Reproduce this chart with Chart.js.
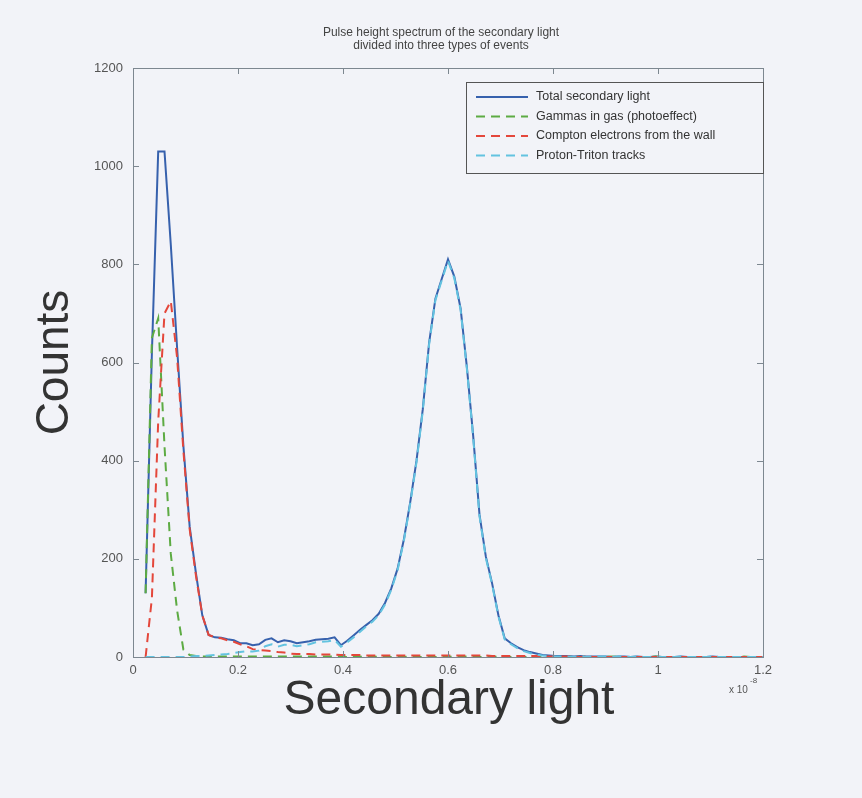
<!DOCTYPE html>
<html>
<head>
<meta charset="utf-8">
<script src="https://cdn.jsdelivr.net/npm/chart.js@4.4.1/dist/chart.umd.min.js"></script>
<style>
  html, body { margin: 0; padding: 0; background: #f2f3f8; }
  canvas { display: block; }
</style>
</head>
<body>
<canvas id="spectrum" width="862" height="798"></canvas>
<script>
// histogram bins, secondary light in units of 1e-8, first bin centre at 2 * binWidth
var binWidth = 0.012;
var firstBin = 2;

var totalLight = [
    130, 620, 1030, 1030, 840, 630, 430, 265, 170, 85, 45, 40, 39, 36, 34,
    28, 28, 24, 26, 35, 38, 30, 34, 32, 28, 30, 32, 35, 36, 37,
    40, 24, 33, 44, 55, 65, 75, 88, 110, 140, 180, 240, 315, 400, 505,
    640, 730, 770, 810, 775, 710, 590, 450, 290, 205, 150, 85, 38, 28, 20,
    14, 10, 7, 4, 3, 2, 2, 2, 1, 2, 1, 1, 1, 1, 0,
    1, 1, 0, 1, 0, 0, 1, 0, 0, 0, 1, 0, 0, 0, 0,
    1, 0, 0, 0, 0, 0, 0, 0, 0
];
var gammasGas = [
    130, 650, 690, 430, 210, 95, 15, 4, 2, 1, 1, 1, 1, 1, 1,
    1, 1, 1, 1, 1, 1, 1, 1, 1, 1, 1, 1, 1, 1, 1,
    1, 1, 0, 1, 1, 0, 1, 0, 1, 0, 1, 0, 1, 0, 0,
    1, 0, 0, 1, 0, 0, 1, 0, 0, 0, 1, 0, 0, 0, 1,
    0, 0, 0, 1, 0, 0, 0, 0, 1, 0, 0, 0, 0, 0, 1,
    0, 0, 0, 0, 0, 0, 1, 0, 0, 0, 0, 0, 0, 0, 0,
    0, 0, 0, 0, 0, 1, 0, 0, 0
];
var comptonWall = [
    0, 120, 480, 700, 725, 610, 420, 260, 165, 85, 45, 40, 38, 34, 31,
    26, 22, 16, 14, 13, 12, 10, 9, 7, 6, 6, 6, 5, 5, 5,
    5, 4, 4, 4, 4, 3, 3, 3, 3, 3, 3, 3, 3, 3, 3,
    3, 3, 3, 3, 3, 3, 3, 3, 3, 3, 2, 2, 2, 2, 2,
    2, 2, 2, 1, 1, 1, 1, 1, 1, 0, 1, 0, 0, 0, 0,
    0, 0, 0, 0, 0, 0, 0, 0, 0, 0, 0, 0, 0, 0, 0,
    0, 0, 0, 0, 0, 0, 0, 0, 0
];
var protonTriton = [
    0, 0, 0, 0, 0, 0, 0, 1, 2, 2, 3, 4, 5, 6, 8,
    10, 12, 11, 13, 22, 26, 21, 25, 25, 22, 24, 26, 30, 31, 32,
    35, 21, 30, 40, 51, 62, 72, 85, 107, 137, 177, 237, 312, 397, 502,
    637, 727, 767, 807, 772, 707, 587, 447, 287, 202, 148, 83, 36, 26, 18,
    12, 8, 5, 3, 2, 1, 1, 1, 0, 2, 0, 1, 1, 1, 0,
    1, 1, 0, 1, 0, 0, 0, 0, 0, 0, 1, 0, 0, 0, 0,
    1, 0, 0, 0, 0, 0, 0, 0, 0
];

var seriesNames = [
    "Total secondary light",
    "Gammas in gas (photoeffect)",
    "Compton electrons from the wall",
    "Proton-Triton tracks"
];
var titleLines = [
    "Pulse height spectrum of the secondary light",
    "divided into three types of events"
];
var xTitle = "Secondary light";
var yTitle = "Counts";

var bg = "#f2f3f8";
var axisColor = "#7d8790";
var textColor = "#333";
var font = "'Liberation Sans', Arial, sans-serif";

var points = function(values) {
    return values.map(function(v, i) {
        return {x: +((i + firstBin) * binWidth).toFixed(3), y: v};
    });
};

// title, axis names, legend box, inward ticks and the closed frame
var matlabFrame = {
    id: 'matlabFrame',
    beforeDraw: function(chart) {
        var ctx = chart.ctx;
        ctx.save();
        ctx.fillStyle = bg;
        ctx.fillRect(0, 0, chart.width, chart.height);
        ctx.restore();
    },
    afterDraw: function(chart) {
        var ctx = chart.ctx;
        var a = chart.chartArea;
        var xs = chart.scales.x, ys = chart.scales.y;
        ctx.save();

        // frame
        ctx.strokeStyle = axisColor;
        ctx.lineWidth = 1;
        ctx.strokeRect(a.left + 0.5, a.top + 0.5, a.right - a.left, a.bottom - a.top);

        // ticks pointing inside, on all four sides
        ctx.beginPath();
        xs.ticks.forEach(function(t) {
            var px = Math.round(xs.getPixelForValue(t.value)) + 0.5;
            ctx.moveTo(px, a.bottom); ctx.lineTo(px, a.bottom - 6);
            ctx.moveTo(px, a.top); ctx.lineTo(px, a.top + 6);
        });
        ys.ticks.forEach(function(t) {
            var py = Math.round(ys.getPixelForValue(t.value)) + 0.5;
            ctx.moveTo(a.left, py); ctx.lineTo(a.left + 6, py);
            ctx.moveTo(a.right, py); ctx.lineTo(a.right - 6, py);
        });
        ctx.stroke();

        // title
        ctx.fillStyle = "#444";
        ctx.font = "12px " + font;
        ctx.textAlign = "center";
        ctx.textBaseline = "middle";
        ctx.fillText(titleLines[0], 441, 33);
        ctx.fillText(titleLines[1], 441, 46);

        // axis names
        ctx.fillStyle = textColor;
        ctx.font = "48px " + font;
        ctx.textBaseline = "alphabetic";
        ctx.fillText(xTitle, (a.left + a.right) / 2 + 1, 714);
        ctx.save();
        ctx.translate(68, (a.top + a.bottom) / 2);
        ctx.rotate(-Math.PI / 2);
        ctx.font = "46px " + font;
        ctx.fillText(yTitle, 0, 0);
        ctx.restore();

        // exponent of the x axis
        ctx.fillStyle = "#555";
        ctx.textAlign = "left";
        ctx.textBaseline = "middle";
        ctx.font = "10px " + font;
        ctx.fillText("x 10", 729, 690);
        ctx.font = "8px " + font;
        ctx.fillText("-8", 750, 681);

        // legend
        var lx = 466, ly = 82, lw = a.right - lx, lh = 91;
        ctx.fillStyle = bg;
        ctx.fillRect(lx, ly, lw, lh);
        ctx.strokeStyle = "#555";
        ctx.strokeRect(lx + 0.5, ly + 0.5, lw, lh);
        ctx.font = "12.5px " + font;
        chart.data.datasets.forEach(function(ds, i) {
            var y = ly + 15 + i * 19.5;
            ctx.strokeStyle = ds.borderColor;
            ctx.lineWidth = 1.8;
            ctx.setLineDash(ds.borderDash || []);
            ctx.beginPath();
            ctx.moveTo(lx + 10, y);
            ctx.lineTo(lx + 62, y);
            ctx.stroke();
            ctx.setLineDash([]);
            ctx.fillStyle = textColor;
            ctx.fillText(ds.label, lx + 70, y);
        });
        ctx.restore();
    }
};

var chart = new Chart('spectrum', {
    type: 'line',
    data: {
        datasets: [
            {
                label: seriesNames[0],
                data: points(totalLight),
                borderColor: "#3761ad",
                borderWidth: 2,
                order: 3
            },
            {
                label: seriesNames[1],
                data: points(gammasGas),
                borderColor: "#5dab43",
                borderWidth: 2,
                borderDash: [9, 6],
                order: 2
            },
            {
                label: seriesNames[2],
                data: points(comptonWall),
                borderColor: "#e4473b",
                borderWidth: 2,
                borderDash: [9, 6],
                order: 1
            },
            {
                label: seriesNames[3],
                data: points(protonTriton),
                borderColor: "#63c3e0",
                borderWidth: 2,
                borderDash: [9, 6],
                order: 0
            }
        ]
    },
    options: {
        responsive: false,
        animation: false,
        tension: 0,
        pointRadius: 0,
        layout: {
            padding: {top: 68, right: 99, bottom: 0, left: 0}
        },
        plugins: {
            legend: {display: false},
            title: {display: false},
            tooltip: {enabled: false}
        },
        scales: {
            x: {
                type: 'linear',
                min: 0,
                max: 1.2,
                grid: {display: true, drawOnChartArea: false, drawTicks: false},
                border: {display: true, color: axisColor},
                ticks: {
                    stepSize: 0.2,
                    padding: 6,
                    color: "#555",
                    font: {family: font, size: 13},
                    callback: function(v) { return String(+v.toFixed(1)); }
                },
                afterFit: function(scale) { scale.height = 141; }
            },
            y: {
                min: 0,
                max: 1200,
                grid: {display: true, drawOnChartArea: false, drawTicks: false},
                border: {display: true, color: axisColor},
                ticks: {
                    stepSize: 200,
                    padding: 10,
                    color: "#555",
                    font: {family: font, size: 13},
                    callback: function(v) { return String(v); }
                },
                afterFit: function(scale) { scale.width = 133; }
            }
        }
    },
    plugins: [matlabFrame]
});
</script>
</body>
</html>
